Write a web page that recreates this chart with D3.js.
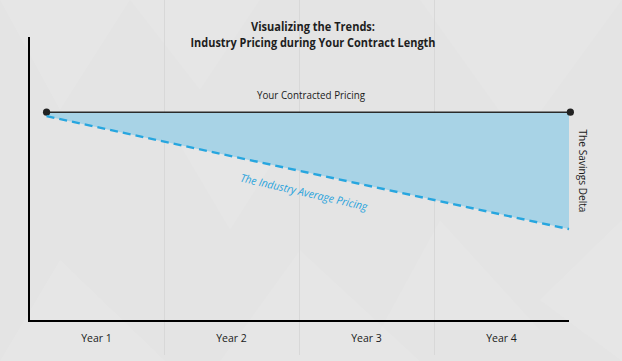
<!DOCTYPE html>
<html><head><meta charset="utf-8">
<script src="https://cdn.jsdelivr.net/npm/d3@7"></script>
<style>html,body{margin:0;padding:0;background:#e5e5e5;}svg{display:block;}</style>
</head><body>
<svg id="c" width="622" height="361"></svg>
<script>
// Data
const years = ["Year 1", "Year 2", "Year 3", "Year 4"];
const contractT = [0.13, 4.01];
const contractPrice = [100, 100];
const industryT = [0.13, 4.0];
const industryPrice = [98.1, 44.0];
const titleLines = ["Visualizing the Trends:", "Industry Pricing during Your Contract Length"];

(function () {
const svg = d3.select("#c");
const W = 622, H = 361;
const mLeft = 29, mRight = 569, mTop = 37, mBottom = 321;

// background
svg.append("rect").attr("width", W).attr("height", H).attr("fill", "#e4e4e4");
const tri = [
  [[0,0],[130,0],[60,110]], [[130,0],[260,0],[200,90]], [[420,0],[622,0],[520,140]],
  [[60,260],[165,361],[0,361]], [[300,250],[420,361],[220,361]], [[540,300],[622,220],[622,361]],
  [[165,120],[300,120],[230,230]], [[440,220],[540,330],[380,330]]
];
svg.append("g").selectAll("path").data(tri).join("path")
  .attr("d", d => "M" + d.map(p => p.join(",")).join("L") + "Z")
  .attr("fill", "#ffffff").attr("opacity", 0.08);

const x = d3.scaleLinear().domain([0, 4]).range([mLeft, mRight]);
const y = d3.scaleLinear().domain([0, 136]).range([mBottom, mTop]);
const xb = d3.scaleBand().domain(years).range([mLeft, mRight]);

// vertical gridlines
svg.append("g").selectAll("line").data(years.slice(1)).join("line")
  .attr("x1", d => xb(d) + 0.5).attr("x2", d => xb(d) + 0.5)
  .attr("y1", 0).attr("y2", 355)
  .attr("stroke", "#d8d8d8").attr("stroke-width", 1);

// area
const areaPath = "M" + x(contractT[0]) + "," + y(contractPrice[0]) +
  "L" + x(industryT[1]) + "," + y(contractPrice[1]) +
  "L" + x(industryT[1]) + "," + y(industryPrice[1]) +
  "L" + x(industryT[0]) + "," + y(industryPrice[0]) + "Z";
svg.append("path").attr("d", areaPath).attr("fill", "#a8d3e6");

// contract line
const line = d3.line().x(d => x(d[0])).y(d => y(d[1]));
const cData = contractT.map((t, i) => [t, contractPrice[i]]);
svg.append("path").datum(cData)
  .attr("d", line).attr("fill", "none").attr("stroke", "#2a2a2a").attr("stroke-width", 1.6);
svg.append("g").selectAll("circle").data(cData).join("circle")
  .attr("cx", d => x(d[0])).attr("cy", d => y(d[1])).attr("r", 3.6).attr("fill", "#222");

// industry dashed line
svg.append("path").datum(industryT.map((t, i) => [t, industryPrice[i]]))
  .attr("d", line).attr("fill", "none").attr("stroke", "#27a6df").attr("stroke-width", 2.4)
  .attr("stroke-dasharray", "8,5");

// axes
svg.append("line").attr("x1", mLeft).attr("x2", mLeft).attr("y1", mTop).attr("y2", mBottom + 1)
  .attr("stroke", "#000").attr("stroke-width", 2);
const xAxis = svg.append("g").attr("transform", `translate(0,${mBottom})`)
  .call(d3.axisBottom(xb).tickSize(0).tickPadding(12));
xAxis.select(".domain").attr("stroke", "#000").attr("stroke-width", 2.2)
  .attr("d", `M${mLeft - 1},0H${mRight}`);
xAxis.selectAll("text").attr("font-family", "Open Sans, sans-serif").attr("font-size", 10.5)
  .attr("fill", "#1a1a1a").attr("dy", "0.9em");

// title
svg.append("g").selectAll("text").data(titleLines).join("text")
  .attr("x", 313).attr("y", (d, i) => 31 + i * 16)
  .attr("text-anchor", "middle")
  .attr("font-family", "Open Sans, sans-serif").attr("font-weight", 700).attr("font-size", 12.5)
  .attr("fill", "#1e1e1e")
  .attr("textLength", (d, i) => i === 0 ? 124 : 245).attr("lengthAdjust", "spacingAndGlyphs")
  .text(d => d);

// labels
svg.append("text").attr("x", 311).attr("y", 99).attr("text-anchor", "middle")
  .attr("font-family", "Open Sans, sans-serif").attr("font-size", 11).attr("fill", "#1a1a1a")
  .attr("textLength", 108).attr("lengthAdjust", "spacingAndGlyphs")
  .text("Your Contracted Pricing");

svg.append("text").attr("transform", "translate(579,171) rotate(90)").attr("text-anchor", "middle")
  .attr("font-family", "Open Sans, sans-serif").attr("font-size", 11).attr("fill", "#1a1a1a")
  .attr("textLength", 83).attr("lengthAdjust", "spacingAndGlyphs")
  .text("The Savings Delta");

svg.append("text").attr("transform", "translate(303,196) rotate(13)").attr("text-anchor", "middle")
  .attr("font-family", "Open Sans, sans-serif").attr("font-style", "italic").attr("font-size", 11)
  .attr("fill", "#29a3dc")
  .attr("textLength", 130).attr("lengthAdjust", "spacingAndGlyphs")
  .text("The Industry Average Pricing");
})();
</script>
</body></html>
